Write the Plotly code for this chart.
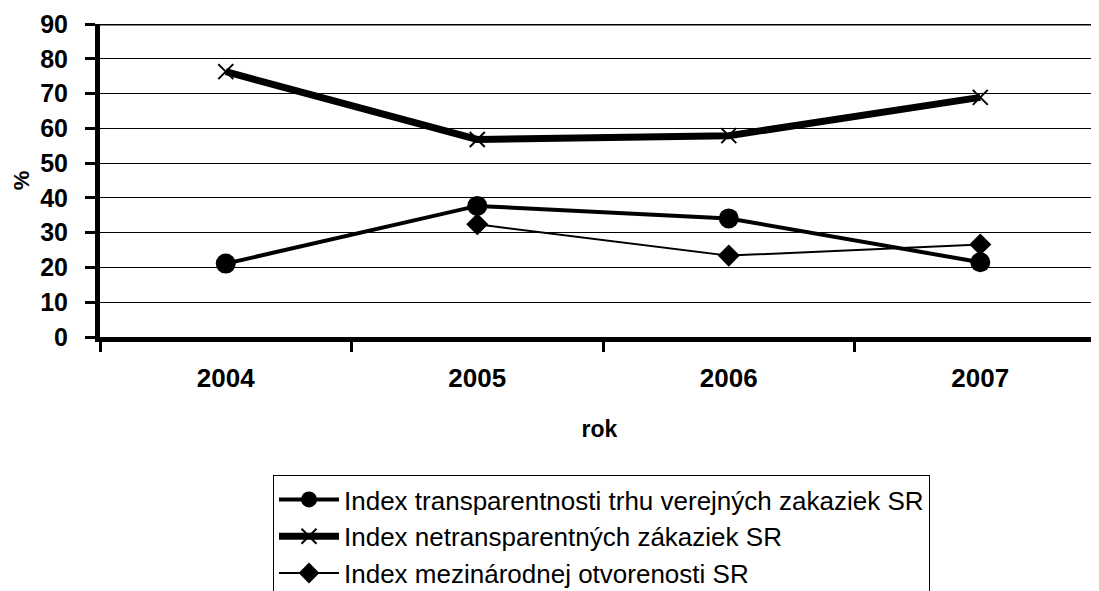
import plotly.graph_objects as go

years = ["2004", "2005", "2006", "2007"]
transparency = [21.1, 37.7, 34.1, 21.5]
netransparent = [76.3, 56.8, 57.9, 68.9]
international_years = ["2005", "2006", "2007"]
international = [32.4, 23.4, 26.6]

names = [
    "Index transparentnosti trhu verejných zakaziek SR",
    "Index netransparentných zákaziek SR",
    "Index mezinárodnej otvorenosti SR",
]
y_ticks = list(range(0, 91, 10))

fig = go.Figure()
fig.add_trace(go.Scatter(
    x=years, y=transparency, name=names[0], mode="lines+markers",
    line=dict(color="black", width=4),
    marker=dict(symbol="circle", size=20, color="black"),
    legendgroup="a", legendrank=1,
))
fig.add_trace(go.Scatter(
    x=years, y=netransparent, name=names[1], mode="lines+markers",
    line=dict(color="black", width=7),
    marker=dict(symbol="x-thin-open", size=15, color="black",
                line=dict(color="black", width=2)),
    legendgroup="b", legendrank=2,
))
fig.add_trace(go.Scatter(
    x=international_years, y=international, name=names[2], mode="lines+markers",
    line=dict(color="black", width=2),
    marker=dict(symbol="diamond", size=17, color="black"),
    legendgroup="c", legendrank=3,
))

font_family = "Liberation Sans, Arial, sans-serif"

# page body has an 8px margin; figure sized to fit the 1099x591 window
W, H = 1091, 583
L, T, PH = 92, 16, 313
B = H - T - PH

fig.update_layout(
    width=W, height=H,
    margin=dict(l=L, r=0, t=T, b=B, autoexpand=False),
    paper_bgcolor="white", plot_bgcolor="white",
    font=dict(family=font_family, color="black"),
    showlegend=True,
    legend=dict(
        x=(265 - L) / (W - L), y=-(467 - (T + PH)) / PH,
        xanchor="left", yanchor="top",
        bordercolor="black", borderwidth=1, bgcolor="white",
        font=dict(size=26, family=font_family, color="black"),
        itemwidth=60, tracegroupgap=0,
        traceorder="grouped",
    ),
    xaxis=dict(
        type="category", range=[-0.5, 3.472],
        showline=True, linecolor="black", linewidth=5,
        ticks="outside", tickson="boundaries", ticklen=10, tickwidth=3, tickcolor="black",
        showgrid=False, zeroline=False,
        tickfont=dict(size=26, family=font_family, color="black", weight="bold"),
        ticklabelstandoff=14,
        title=dict(text="<b>rok</b>", font=dict(size=23, family=font_family, color="black"),
                   standoff=30),
    ),
    yaxis=dict(
        range=[0, 90], tickvals=y_ticks,
        showline=True, linecolor="black", linewidth=5,
        ticks="outside", ticklen=10, tickwidth=3, tickcolor="black",
        showgrid=True, gridcolor="black", gridwidth=1, zeroline=False,
        tickfont=dict(size=25, family=font_family, color="black", weight="bold"),
        ticklabelstandoff=12,
        title=dict(text="<b>%</b>", font=dict(size=22, family=font_family, color="black"),
                   standoff=6),
    ),
    shapes=[dict(type="line", xref="paper", yref="y", x0=0, x1=1, y0=90, y1=90,
                 line=dict(color="black", width=3), layer="above")],
)

fig.write_html("out.html")
